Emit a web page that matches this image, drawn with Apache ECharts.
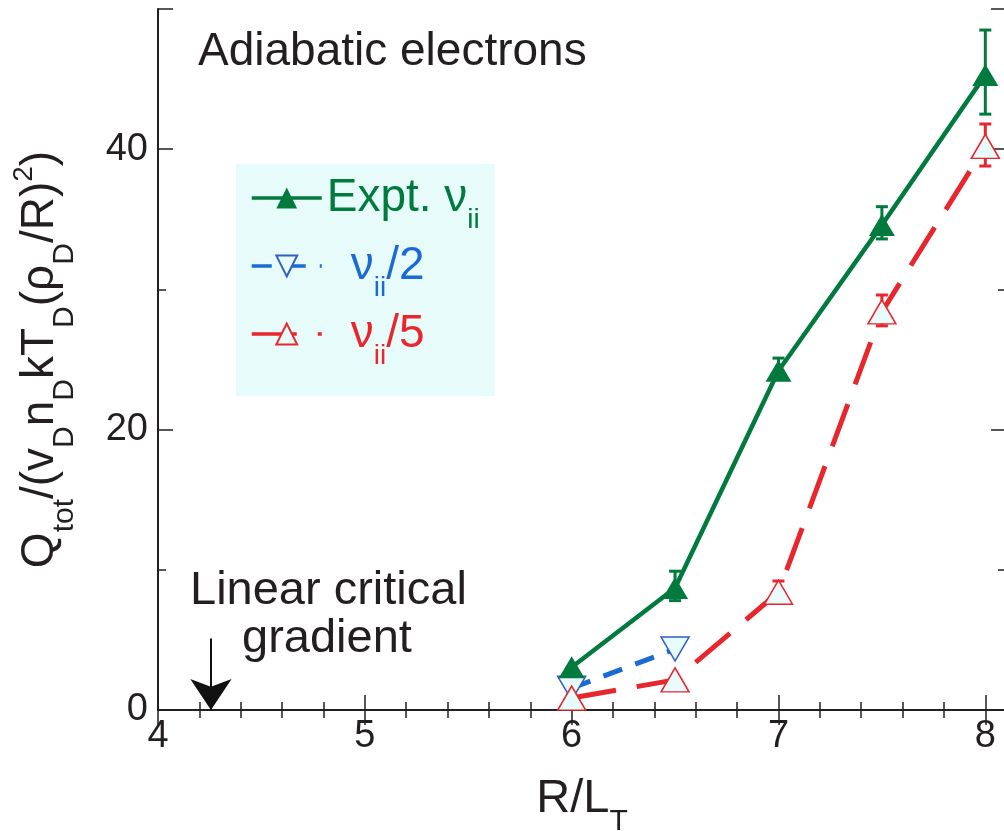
<!DOCTYPE html>
<html>
<head>
<meta charset="utf-8">
<script src="https://cdn.jsdelivr.net/npm/echarts@6/dist/echarts.min.js"></script>
<style>
html, body { margin: 0; padding: 0; background: #fff; }
#chart { width: 1004px; height: 831px; }
</style>
</head>
<body>
<div id="chart"></div>
<script>
// R/L_T positions and heat flux values
var rlt = [6, 6.5, 7, 7.5, 8];
var exptQ = [3.05, 8.7, 24.2, 34.6, 45.3];
var exptLo = [null, 7.8, 23.6, 33.6, 42.5];
var exptHi = [null, 9.9, 25.1, 35.9, 48.5];
var halfX = [6, 6.5];
var halfQ = [1.55, 4.35];
var fifthQ = [0.85, 2.15, 8.4, 28.4, 40.2];
var fifthLo = [null, null, 7.6, 27.4, 38.8];
var fifthHi = [null, null, 9.2, 29.6, 41.8];
var xTicks = [4, 5, 6, 7, 8];
var yTicks = [0, 20, 40];
var critX = 4.256;

var FONT = 'Liberation Sans';
var INK = '#231f20';
var GREEN = '#007a3d';
var BLUE = '#1a6ad4';
var BLUE_EDGE = '#2f5fc4';
var RED = '#e8262d';
var PALE = '#e8fbfb';

function pairs(xs, ys) {
    var out = [];
    for (var i = 0; i < xs.length; i++) out.push([xs[i], ys[i]]);
    return out;
}
function errs(xs, lo, hi) {
    var out = [];
    for (var i = 0; i < xs.length; i++) {
        if (lo[i] != null) out.push([xs[i], lo[i], hi[i]]);
    }
    return out;
}
function errRender(color) {
    return function (params, api) {
        var p1 = api.coord([api.value(0), api.value(1)]);
        var p2 = api.coord([api.value(0), api.value(2)]);
        var w = 6;
        var st = {stroke: color, lineWidth: 3};
        return {
            type: 'group',
            children: [
                {type: 'line', shape: {x1: p1[0], y1: p1[1], x2: p2[0], y2: p2[1]}, style: st},
                {type: 'line', shape: {x1: p1[0] - w, y1: p1[1], x2: p1[0] + w, y2: p1[1]}, style: st},
                {type: 'line', shape: {x1: p2[0] - w, y1: p2[1], x2: p2[0] + w, y2: p2[1]}, style: st}
            ]
        };
    };
}

var chart = echarts.init(document.getElementById('chart'));

var axisCommon = {
    axisLine: {lineStyle: {color: INK, width: 2}},
    axisTick: {inside: true, length: 15, lineStyle: {color: INK, width: 1.5}},
    minorTick: {show: true, length: 8, lineStyle: {color: INK, width: 1.5}},
    splitLine: {show: false},
    minorSplitLine: {show: false}
};

var legendNames = {
    expt: '{gm|Expt. ν}{gs|ii}',
    half: '{sp| }{bm|ν}{bs|ii}{bm|/2}',
    fifth: '{sp| }{rm|ν}{rs|ii}{rm|/5}'
};

option = {
    backgroundColor: '#ffffff',
    animation: false,
    grid: {left: 158, top: 9, width: 848, height: 701, outerBoundsMode: 'none'},
    xAxis: [
        Object.assign({}, axisCommon, {
            type: 'value', position: 'bottom', min: 4, max: 8.1, interval: 1,
            minorTick: Object.assign({}, axisCommon.minorTick, {splitNumber: 5}),
            axisLabel: {customValues: xTicks, color: INK, fontFamily: FONT, fontSize: 38, margin: 8},
            name: '{m|R/L}{s|T}', nameLocation: 'middle', nameGap: 37,
            nameTextStyle: {
                color: INK, fontFamily: FONT,
                rich: {
                    m: {fontSize: 47, lineHeight: 50, fontFamily: FONT, color: INK},
                    s: {fontSize: 30, lineHeight: 26, padding: [46, 0, 0, 0], fontFamily: FONT, color: INK}
                }
            }
        }),
        Object.assign({}, axisCommon, {
            type: 'value', position: 'top', min: 4, max: 8.1, interval: 1,
            minorTick: Object.assign({}, axisCommon.minorTick, {splitNumber: 5}),
            axisLabel: {show: false}
        })
    ],
    yAxis: [
        Object.assign({}, axisCommon, {
            type: 'value', position: 'left', min: 0, max: 50, interval: 20,
            minorTick: Object.assign({}, axisCommon.minorTick, {splitNumber: 2}),
            axisLabel: {customValues: yTicks, color: INK, fontFamily: FONT, fontSize: 38, margin: 10},
            name: '{m|Q}{s|tot}{m|/(v}{s|D}{m|n}{s|D}{m|kT}{s|D}{m|(ρ}{s|D}{m|/R)}{p|2}{m|)}',
            nameLocation: 'middle', nameRotate: 90, nameGap: 93,
            nameTextStyle: {
                color: INK, fontFamily: FONT,
                rich: {
                    m: {fontSize: 46, lineHeight: 50, fontFamily: FONT, color: INK},
                    s: {fontSize: 30, lineHeight: 26, padding: [50, 0, 0, 0], fontFamily: FONT, color: INK},
                    p: {fontSize: 28, lineHeight: 26, padding: [0, 0, 32, 0], fontFamily: FONT, color: INK}
                }
            }
        }),
        Object.assign({}, axisCommon, {
            type: 'value', position: 'right', min: 0, max: 50, interval: 20,
            minorTick: Object.assign({}, axisCommon.minorTick, {splitNumber: 2}),
            axisLabel: {show: false}
        })
    ],
    legend: {
        orient: 'vertical',
        left: 236, top: 164,
        padding: [11, 15, 26, 14],
        itemGap: 9,
        itemWidth: 70,
        itemHeight: 26,
        backgroundColor: PALE,
        selectedMode: false,
        lineStyle: {width: 3.5},
        data: ['expt', 'half', 'fifth'],
        formatter: function (name) { return legendNames[name]; },
        textStyle: {
            fontFamily: FONT,
            rich: {
                sp: {width: 24, fontSize: 20},
                gm: {fontSize: 46, color: GREEN, fontFamily: FONT},
                gs: {fontSize: 28, padding: [44, 0, 0, 0], color: GREEN, fontFamily: FONT},
                bm: {fontSize: 46, color: BLUE, fontFamily: FONT},
                bs: {fontSize: 28, padding: [44, 0, 0, 0], color: BLUE, fontFamily: FONT},
                rm: {fontSize: 46, color: RED, fontFamily: FONT},
                rs: {fontSize: 28, padding: [44, 0, 0, 0], color: RED, fontFamily: FONT}
            }
        }
    },
    graphic: [
        {type: 'text', left: 198, top: 29, style: {text: 'Adiabatic electrons', font: '46px "Liberation Sans"', fill: INK}},
        {type: 'text', left: 190, top: 568, style: {text: 'Linear critical', font: '47px "Liberation Sans"', fill: INK}},
        {type: 'text', left: 242, top: 616, style: {text: 'gradient', font: '47px "Liberation Sans"', fill: INK}}
    ],
    series: [
        {
            name: 'exptErr', type: 'custom', z: 1,
            renderItem: errRender(GREEN),
            data: errs(rlt, exptLo, exptHi)
        },
        {
            name: 'fifthErr', type: 'custom', z: 1,
            renderItem: errRender(RED),
            data: errs(rlt, fifthLo, fifthHi)
        },
        {
            name: 'half', type: 'line', z: 2,
            data: pairs(halfX, halfQ),
            symbol: 'triangle', symbolRotate: 180, symbolSize: [28, 24],
            lineStyle: {color: BLUE, width: 5, type: [20, 14]},
            itemStyle: {color: PALE, borderColor: BLUE_EDGE, borderWidth: 1.5},
            silent: true
        },
        {
            name: 'fifth', type: 'line', z: 3,
            data: pairs(rlt, fifthQ),
            symbol: 'triangle', symbolSize: [28, 24],
            lineStyle: {color: RED, width: 5, type: [45, 21]},
            itemStyle: {color: PALE, borderColor: RED, borderWidth: 1.5},
            silent: true
        },
        {
            name: 'expt', type: 'line', z: 4,
            data: pairs(rlt, exptQ),
            symbol: 'triangle', symbolSize: [26, 22],
            lineStyle: {color: GREEN, width: 4.5},
            itemStyle: {color: GREEN, borderColor: GREEN, borderWidth: 0},
            silent: true,
            markLine: {
                silent: true,
                animation: false,
                symbol: ['none', 'arrow'],
                symbolSize: 31,
                label: {show: false},
                lineStyle: {color: '#111', width: 2, type: 'solid'},
                itemStyle: {color: '#111'},
                data: [[
                    {coord: [critX, 5.1]},
                    {coord: [critX, 0]}
                ]]
            }
        }
    ]
};
chart.setOption(option);
</script>
</body>
</html>
